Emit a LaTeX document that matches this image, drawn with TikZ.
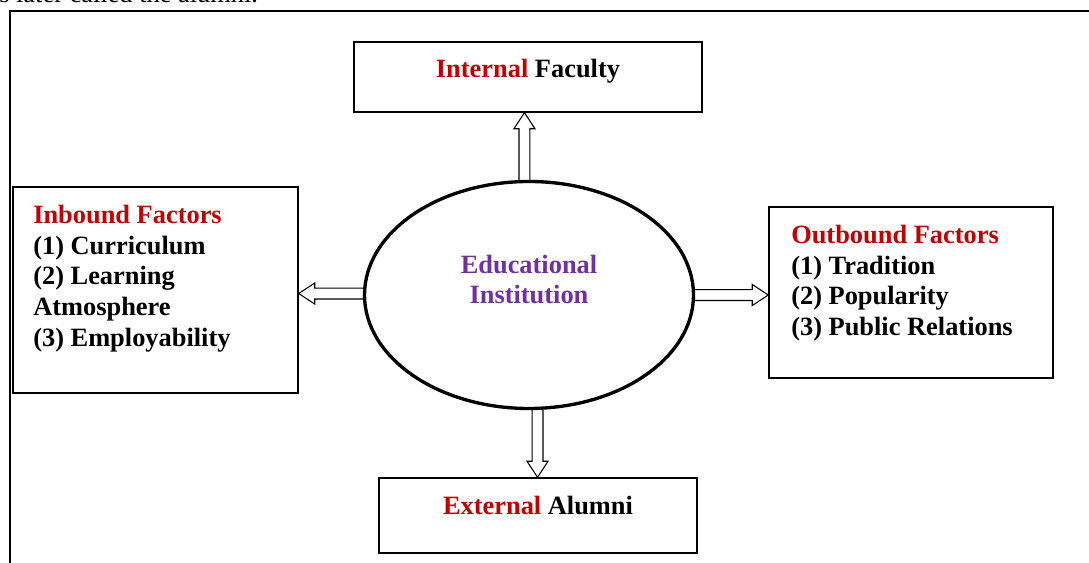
\documentclass[tikz,border=0pt]{standalone}
\usepackage{fontspec}
\setmainfont{Liberation Serif}
\usetikzlibrary{calc, shapes.geometric}
\definecolor{factorred}{HTML}{C00000}
\definecolor{instpurple}{HTML}{7030A0}
\newcommand{\figfont}{\fontsize{19.8}{23}\selectfont}
\tikzset{
	x=0.75pt, y=-0.75pt, % one unit per pixel, y grows downwards
	box/.style={draw, rectangle, line width=1.1pt, inner sep=0pt, font=\figfont\bfseries}, % framed text boxes
	factors/.style={align=left, inner sep=0pt, font=\figfont\bfseries}, % lists inside the side boxes
	inst/.style={draw, ellipse, line width=2.5pt, inner sep=0pt}, % the centre ellipse
	fat/.style={line width=0.8pt, line join=miter}, % outline of the hollow arrows
}
% hollow arrow from #1 straight up/down to the height of #2
\newcommand{\vfat}[2]{%
	\draw[fat] let \p1=(#1), \p2=(#2), \n1={(\y2-\y1)/abs(\y2-\y1)} in
		({\x1-4.1pt},\y1) -- ({\x1-4.1pt},{\y2-(\n1)*12pt}) -- ({\x1-7.9pt},{\y2-(\n1)*12pt})
		-- (\x1,\y2) -- ({\x1+7.9pt},{\y2-(\n1)*12pt}) -- ({\x1+4.1pt},{\y2-(\n1)*12pt}) -- ({\x1+4.1pt},\y1);
}
% hollow arrow from #1 straight left/right to the side of #2
\newcommand{\hfat}[2]{%
	\draw[fat] let \p1=(#1), \p2=(#2), \n1={(\x2-\x1)/abs(\x2-\x1)} in
		(\x1,{\y1-4.1pt}) -- ({\x2-(\n1)*12pt},{\y1-4.1pt}) -- ({\x2-(\n1)*12pt},{\y1-7.9pt})
		-- (\x2,\y1) -- ({\x2-(\n1)*12pt},{\y1+7.9pt}) -- ({\x2-(\n1)*12pt},{\y1+4.1pt}) -- (\x1,{\y1+4.1pt});
}

\begin{document}
\begin{tikzpicture}
	\useasboundingbox (0,0) rectangle (1089,563);
	% end of the paragraph above the figure
	\node[anchor=base west, inner sep=0pt, font=\figfont] (prevline) at (-1,2.5) {s later called the alumni.};
	% figure frame, open to the right and bottom
	\draw[line width=1.2pt] (10,575) -- (10,11) -- (1100,11);

	\node[inst, minimum width=246.75pt, minimum height=170.25pt] (inst) at (529,295) {};
	\node[align=center, inner sep=0pt, anchor=north, font=\figfont\bfseries, text=instpurple] (instText) at (529,254.5) {Educational\\Institution};

	\node[box, minimum width=261pt, minimum height=52.5pt, text height=27pt, text depth=25.5pt] (faculty) at (528,77)
		{\textcolor{factorred}{Internal} Faculty};
	\node[box, minimum width=238.5pt, minimum height=56.25pt, text height=27pt, text depth=29.25pt] (alumni) at (538,515.5)
		{\textcolor{factorred}{External} Alumni};

	\node[box, minimum width=213.75pt, minimum height=154.5pt] (inbound) at (155.5,290) {};
	\node[factors, anchor=north west] (inboundText) at (33,205)
		{\textcolor{factorred}{Inbound Factors}\\(1) Curriculum\\(2) Learning\\Atmosphere\\(3) Employability};
	\node[box, minimum width=213pt, minimum height=128.25pt] (outbound) at (911,292.5) {};
	\node[factors, anchor=north west] (outboundText) at (791,225)
		{\textcolor{factorred}{Outbound Factors}\\(1) Tradition\\(2) Popularity\\(3) Public Relations};

	\vfat{[xshift=-3.4pt]inst.north}{faculty.south}
	\vfat{[xshift=6.4pt]inst.south}{alumni.north}
	\hfat{[yshift=1.1pt]inst.west}{inbound.east}
	\hfat{inst.east}{outbound.west}
\end{tikzpicture}
\end{document}
